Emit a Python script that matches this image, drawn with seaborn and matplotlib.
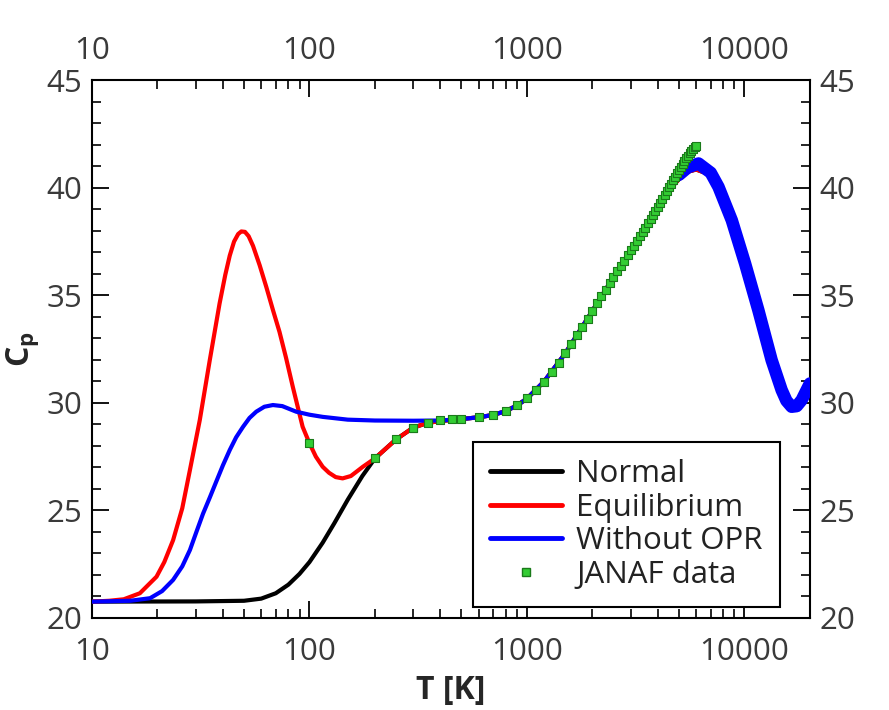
import numpy as np
import pandas as pd
import matplotlib
matplotlib.use("Agg")
import matplotlib.pyplot as plt
import seaborn as sns
from matplotlib.ticker import LogLocator, NullFormatter, FuncFormatter, MultipleLocator, FixedLocator
from matplotlib.lines import Line2D

# ---------------- data ----------------
T_normal = [10, 30, 50, 60, 70, 80, 90, 100, 115, 130, 150, 175, 200,
            250, 300, 350, 400, 500, 600, 700, 800, 900, 1000, 1200, 1500,
            2000, 2500, 3000, 3500, 4000, 4500, 5000, 5500, 6000, 7000, 7600,
            8750, 10070, 11590, 13340, 14830, 15600, 16480, 17400, 18330, 20000]
cp_normal = [20.76, 20.77, 20.8, 20.9, 21.15, 21.55, 22.05, 22.6, 23.5, 24.4, 25.5, 26.6, 27.42,
             28.3, 28.85, 29.07, 29.16, 29.25, 29.33, 29.44, 29.62, 29.88, 30.2, 31.0, 32.3,
             34.28, 35.84, 37.09, 38.15, 39.1, 39.9, 40.4, 40.75, 40.85, 40.6, 40.0,
             38.49, 36.48, 34.31, 31.99, 30.6, 30.1, 29.82, 29.85, 30.13, 30.9]

T_equil = [10, 12, 14, 16.6, 19.8, 21.5, 23.6, 26, 28.2, 31.3, 34.8, 38.6, 41, 43, 45, 47, 48.6,
           50.5, 52.5, 55, 59, 63.3, 68, 72.8, 78, 83.8, 93, 100, 107, 115, 123, 132, 142, 155,
           176, 200, 250, 300, 350, 400, 500, 600, 700, 800, 900, 1000, 1200, 1500,
           2000, 2500, 3000, 3500, 4000, 4500, 5000, 5500, 6000, 7000, 7600,
           8750, 10070, 11590, 13340, 14830, 15600, 16480, 17400, 18330, 20000]
cp_equil = [20.76, 20.8, 20.87, 21.15, 21.92, 22.6, 23.62, 25.1, 26.88, 29.2, 31.99, 34.62, 35.95, 36.85, 37.5, 37.85, 37.97,
            37.95, 37.75, 37.3, 36.4, 35.39, 34.3, 33.3, 32.1, 30.75, 28.89, 28.12, 27.5, 27.03, 26.75, 26.55, 26.49, 26.6,
            27.03, 27.42, 28.3, 28.85, 29.07, 29.16, 29.25, 29.33, 29.44, 29.62, 29.88, 30.2, 31.0, 32.3,
            34.28, 35.84, 37.09, 38.15, 39.1, 39.9, 40.4, 40.75, 40.85, 40.6, 40.0,
            38.49, 36.48, 34.31, 31.99, 30.6, 30.1, 29.82, 29.85, 30.13, 30.9]

T_opr = [10, 15, 18.5, 21, 23.6, 26, 28.2, 30.2, 32.4, 34.8, 37.3, 40, 43, 46, 49.5, 53, 56.9,
         62, 67.9, 75, 86.9, 100, 115, 150, 200, 300, 400, 500, 600, 700, 800, 900, 1000,
         1200, 1500, 2000, 2500, 3000, 3500, 4000, 4500, 5000, 5500, 6150, 7000, 7600,
         8750, 10070, 11590, 13340, 14830, 15600, 16480, 17400, 18330, 20000]
cp_opr = [20.76, 20.8, 20.92, 21.25, 21.77, 22.4, 23.16, 24.0, 24.85, 25.6, 26.35, 27.1, 27.81, 28.4, 28.89, 29.3, 29.59,
          29.82, 29.9, 29.85, 29.59, 29.45, 29.35, 29.22, 29.18, 29.17, 29.18, 29.25, 29.33, 29.44, 29.62, 29.88, 30.2,
          31.0, 32.3, 34.28, 35.84, 37.09, 38.15, 39.1, 39.95, 40.6, 40.95, 41.13, 40.7, 40.04,
          38.49, 36.48, 34.31, 31.99, 30.6, 30.1, 29.82, 29.85, 30.13, 30.9]

T_janaf = [100, 200, 250, 298.15, 300, 350, 400, 450, 500, 600, 700, 800, 900, 1000,
           1100, 1200, 1300, 1400, 1500, 1600, 1700, 1800, 1900, 2000, 2100, 2200, 2300,
           2400, 2500, 2600, 2700, 2800, 2900, 3000, 3100, 3200, 3300, 3400, 3500, 3600,
           3700, 3800, 3900, 4000, 4100, 4200, 4300, 4400, 4500, 4600, 4700, 4800, 4900,
           5000, 5100, 5200, 5300, 5400, 5500, 5600, 5700, 5800, 5900, 6000]
cp_janaf = [28.154, 27.447, 28.344, 28.836, 28.849, 29.081, 29.181, 29.229, 29.260, 29.327, 29.441,
            29.624, 29.881, 30.205, 30.581, 30.992, 31.423, 31.861, 32.298, 32.725, 33.139, 33.537,
            33.917, 34.280, 34.624, 34.952, 35.263, 35.559, 35.842, 36.111, 36.370, 36.618, 36.856,
            37.087, 37.311, 37.528, 37.740, 37.946, 38.149, 38.348, 38.544, 38.738, 38.928, 39.116,
            39.301, 39.484, 39.665, 39.842, 40.017, 40.188, 40.355, 40.518, 40.676, 40.829, 40.976,
            41.117, 41.252, 41.379, 41.498, 41.609, 41.712, 41.806, 41.890, 41.965]

x_ticks = [10, 100, 1000, 10000]
y_ticks = [20, 25, 30, 35, 40, 45]
labels = ["Normal", "Equilibrium", "Without OPR", "JANAF data"]

# ---------------- style ----------------
sns.set_theme(style="ticks")
plt.rcParams["font.family"] = ["Open Sans", "DejaVu Sans"]
plt.rcParams["mathtext.fontset"] = "custom"
plt.rcParams["mathtext.rm"] = "Open Sans"
plt.rcParams["mathtext.bf"] = "Open Sans:bold"
plt.rcParams["axes.linewidth"] = 1.5

fig, ax = plt.subplots(figsize=(8.89, 7.1), dpi=100)
fig.subplots_adjust(left=0.1035, right=0.911, bottom=0.1296, top=0.887)

lw = 3.0
df_n = pd.DataFrame({"T": T_normal, "cp": cp_normal})
df_e = pd.DataFrame({"T": T_equil, "cp": cp_equil})
df_o = pd.DataFrame({"T": T_opr, "cp": cp_opr})
df_j = pd.DataFrame({"T": T_janaf, "cp": cp_janaf})

sns.lineplot(data=df_n, x="T", y="cp", color="black", lw=lw, ax=ax, estimator=None, sort=False, zorder=2)
sns.lineplot(data=df_e, x="T", y="cp", color="#ff0000", lw=lw, ax=ax, estimator=None, sort=False, zorder=3)
sns.lineplot(data=df_o, x="T", y="cp", color="#0000ff", lw=lw, ax=ax, estimator=None, sort=False, zorder=4)
sns.lineplot(data=df_o[df_o["T"] >= 5000], x="T", y="cp", color="#0000ff", lw=9,
             solid_capstyle="round", solid_joinstyle="round", ax=ax, estimator=None, sort=False, zorder=4)
sns.scatterplot(data=df_j, x="T", y="cp", marker="s", s=30, color="#33cc33",
                edgecolor="#1a7a1a", linewidth=0.8, ax=ax, zorder=6)

ax.set_xscale("log")
ax.set_xlim(10, 20000)
ax.set_ylim(20, 45)

fmt = FuncFormatter(lambda v, p: f"{int(round(v))}")
ax.xaxis.set_major_locator(FixedLocator(x_ticks))
ax.xaxis.set_major_formatter(fmt)
ax.xaxis.set_minor_locator(LogLocator(base=10, subs=np.arange(2, 10), numticks=20))
ax.xaxis.set_minor_formatter(NullFormatter())
ax.yaxis.set_major_locator(FixedLocator(y_ticks))
ax.yaxis.set_minor_locator(MultipleLocator(1))

tick_color = "#3a3a3a"
fs_tick = 22.5
ax.tick_params(which="both", direction="in", top=True, right=True, labelleft=True, labelright=True,
               labeltop=False, labelsize=fs_tick, labelcolor=tick_color, color="black")
ax.tick_params(which="major", length=12, width=1.3)
ax.tick_params(which="minor", length=6.5, width=1.2)
ax.tick_params(axis="x", which="major", pad=14)
ax.tick_params(axis="y", which="major", pad=7)

sec = ax.secondary_xaxis("top")
sec.xaxis.set_major_locator(FixedLocator(x_ticks))
sec.xaxis.set_major_formatter(fmt)
sec.xaxis.set_minor_formatter(NullFormatter())
sec.tick_params(which="both", length=0, labelsize=fs_tick, labelcolor=tick_color, pad=10)
sec.spines["top"].set_visible(False)

for s in ax.spines.values():
    s.set_color("black")
    s.set_linewidth(1.5)

ax.set_xlabel("T [K]", fontsize=23, fontweight="bold", labelpad=5)
ax.set_ylabel(r"$\mathbf{C_p}$", fontsize=23, labelpad=4)

handles = [Line2D([], [], color="black", lw=3.5),
           Line2D([], [], color="#ff0000", lw=3.5),
           Line2D([], [], color="#0000ff", lw=3.5),
           Line2D([], [], marker="s", ls="none", markersize=5.5, markerfacecolor="#33cc33",
                  markeredgecolor="#1a7a1a")]
leg = ax.legend(handles, labels, loc="lower right", bbox_to_anchor=(0.958, 0.02),
                frameon=True, fancybox=False, edgecolor="black", framealpha=1,
                fontsize=22.5, handlelength=2.3, handletextpad=0.45, labelspacing=0.12,
                borderpad=0.55, borderaxespad=0)
leg.get_frame().set_linewidth(1.5)
for t in leg.get_texts():
    t.set_color("#222222")

fig.savefig("out.png", dpi=100, facecolor="white")
